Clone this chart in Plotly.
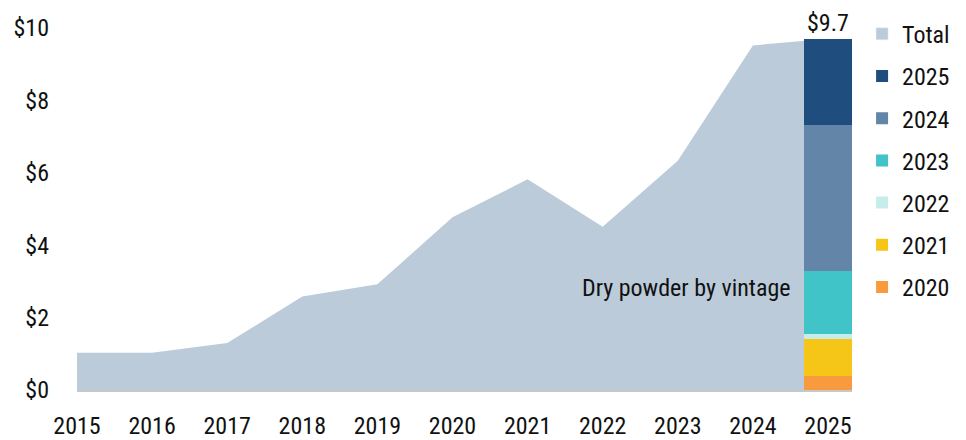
import plotly.graph_objects as go

# Total dry powder by year ($B)
years = [2015, 2016, 2017, 2018, 2019, 2020, 2021, 2022, 2023, 2024, 2025]
total = [1.03, 1.03, 1.30, 2.58, 2.92, 4.77, 5.82, 4.51, 6.33, 9.52, 9.7]

# 2025 dry powder broken down by vintage
vintages = ["2020", "2021", "2022", "2023", "2024", "2025"]
vintage_values = [0.40, 1.00, 0.15, 1.73, 4.05, 2.37]
vintage_colors = ["#F79B3E", "#F5C518", "#C5EEEB", "#41C4C8", "#6285A8", "#1F4E7E"]

y_ticks = [0, 2, 4, 6, 8, 10]
y_tick_text = ["$0", "$2", "$4", "$6", "$8", "$10"]

FONT = "Roboto Condensed, Liberation Sans Narrow, Roboto, sans-serif"
FS = 24
TEXT = "#111111"
AREA = "#BCCBDA"
BAR_WIDTH = 0.64
X_RANGE = [years[0], years[-1] + BAR_WIDTH / 2]

fig = go.Figure()

# Area for the total
fig.add_trace(go.Scatter(
    x=years, y=total, mode="lines", fill="tozeroy",
    fillcolor=AREA, line=dict(width=0, color=AREA),
    showlegend=False, hoverinfo="x+y",
))

# Stacked vintage bar on an overlaid axis so it sits above the area
for i, (name, val, col) in enumerate(zip(vintages, vintage_values, vintage_colors)):
    fig.add_trace(go.Bar(
        x=[years[-1]], y=[val], name=name, width=BAR_WIDTH,
        marker=dict(color=col, line=dict(width=0)),
        xaxis="x2", yaxis="y2",
        legendgroup=name, legendrank=100 - i,
    ))

# Legend entry for the total area
fig.add_trace(go.Bar(
    x=[None], y=[None], name="Total",
    marker=dict(color=AREA), xaxis="x2", yaxis="y2",
    legendgroup="Total", legendrank=1,
))

fig.add_annotation(
    x=years[-1], y=sum(vintage_values), xref="x", yref="y",
    text=f"${total[-1]:.1f}", showarrow=False,
    yanchor="bottom", font=dict(size=FS, color=TEXT, family=FONT),
)
fig.add_annotation(
    x=years[-1] - BAR_WIDTH / 2, y=2.82, xref="x", yref="y",
    text="Dry powder by vintage", showarrow=False,
    xanchor="right", xshift=-12, font=dict(size=FS, color=TEXT, family=FONT),
)

fig.update_layout(
    width=966, height=440,
    margin=dict(l=77, r=114, t=28, b=50, autoexpand=False),
    paper_bgcolor="white", plot_bgcolor="white",
    font=dict(family=FONT, size=FS, color=TEXT),
    barmode="stack", bargap=0,
    xaxis=dict(
        range=X_RANGE, tickmode="array", tickvals=years,
        ticktext=[str(y) for y in years],
        showgrid=False, zeroline=False, ticks="",
        showline=True, linecolor="#C8C8C8", linewidth=2,
        ticklabelstandoff=13, fixedrange=True, automargin=False,
    ),
    yaxis=dict(
        range=[0, 10], tickmode="array", tickvals=y_ticks, ticktext=y_tick_text,
        showgrid=False, zeroline=False, ticks="", showline=False,
        ticklabelstandoff=27, fixedrange=True, automargin=False,
    ),
    xaxis2=dict(overlaying="x", matches="x", visible=False, range=X_RANGE),
    yaxis2=dict(overlaying="y", matches="y", visible=False, range=[0, 10]),
    legend=dict(
        x=1.013, xanchor="left", y=1.045, yanchor="top",
        traceorder="grouped", tracegroupgap=8, maxheight=420,
        font=dict(size=FS, color=TEXT, family=FONT),
        bgcolor="rgba(0,0,0,0)",
    ),
)

fig.write_html("out.html")
